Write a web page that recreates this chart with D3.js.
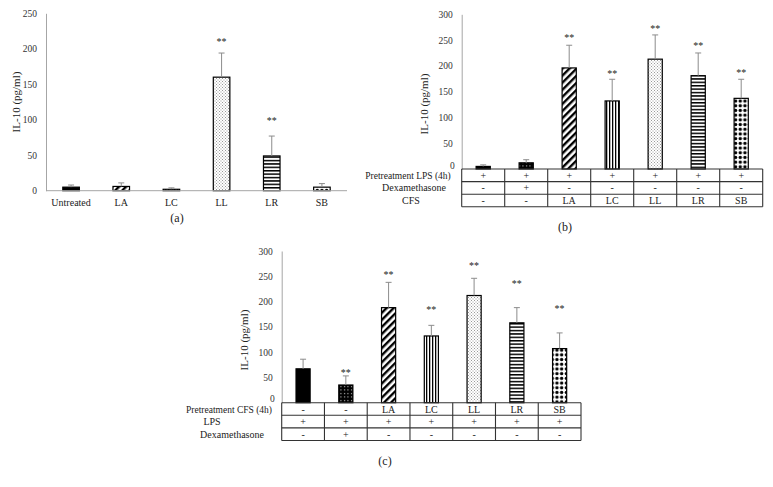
<!DOCTYPE html>
<html>
<head>
<meta charset="utf-8">
<script src="https://cdn.jsdelivr.net/npm/d3@7"></script>
<style>
  body { margin: 0; background: #fff; }
  svg { font-family: "Liberation Serif", "Times New Roman", serif; }
</style>
</head>
<body>
<svg id="chart" width="773" height="487"></svg>
<script>
// ---- data (a): CFS alone
var catsA = ["Untreated", "LA", "LC", "LL", "LR", "SB"];
var meanA = [5, 6, 2, 160, 49, 5];
var sdA   = [3, 5, 2, 34, 28, 5];
var sigA  = ["", "", "", "**", "**", ""];
var sigAtA = [null, null, null, 212, 101, null];
var fillA = ["solid", "diag", "vert", "fine", "horiz", "diamond"];

// ---- data (b): LPS pretreatment, then CFS
var meanB = [5, 12, 196, 132, 213, 181, 137];
var sdB   = [3, 6, 44, 42, 47, 44, 37];
var sigB  = ["", "", "**", "**", "**", "**", "**"];
var sigAtB = [null, null, 258, 189, 276, 242, 190];
var rowNamesB = ["Pretreatment LPS (4h)", "Dexamethasone", "CFS"];
var lpsB = ["+", "+", "+", "+", "+", "+", "+"];
var dexB = ["-", "+", "-", "-", "-", "-", "-"];
var cfsB = ["-", "-", "LA", "LC", "LL", "LR", "SB"];

// ---- data (c): CFS pretreatment, then LPS
var meanC = [67, 35, 188, 132, 212, 158, 107];
var sdC   = [19, 18, 50, 21, 34, 30, 31];
var sigC  = ["", "**", "**", "**", "**", "**", "**"];
var sigAtC = [null, 63, 256, 187, 274, 239, 189];
var rowNamesC = ["Pretreatment CFS (4h)", "LPS", "Dexamethasone"];
var cfsC = ["-", "-", "LA", "LC", "LL", "LR", "SB"];
var lpsC = ["+", "+", "+", "+", "+", "+", "+"];
var dexC = ["-", "+", "-", "-", "-", "-", "-"];

var fillBC = ["solid", "dots", "diag", "vert", "fine", "horiz", "diamond"];

var svg = d3.select("#chart");
var defs = svg.append("defs");

// ---- fill patterns
function pattern(id, w, h, bg, transform) {
  var p = defs.append("pattern")
    .attr("id", id)
    .attr("patternUnits", "userSpaceOnUse")
    .attr("width", w).attr("height", h);
  if (transform) p.attr("patternTransform", transform);
  p.append("rect").attr("width", w).attr("height", h).attr("fill", bg);
  return p;
}
pattern("diag", 5, 5, "#fff", "rotate(45)")
  .append("rect").attr("x", 0).attr("y", 0).attr("width", 2.4).attr("height", 5).attr("fill", "#000");
pattern("vert", 3, 3, "#fff")
  .append("rect").attr("x", 0).attr("y", 0).attr("width", 1.3).attr("height", 3).attr("fill", "#000");
pattern("horiz", 3.4, 3.4, "#fff")
  .append("rect").attr("x", 0).attr("y", 0).attr("width", 3.4).attr("height", 1.5).attr("fill", "#000");
var pf = pattern("fine", 3, 3, "#fff");
pf.append("rect").attr("x", 0).attr("y", 0).attr("width", 1).attr("height", 1).attr("fill", "#999");
pf.append("rect").attr("x", 1.5).attr("y", 1.5).attr("width", 1).attr("height", 1).attr("fill", "#999");
pattern("dots", 3.5, 3.5, "#000")
  .append("rect").attr("x", 1).attr("y", 1).attr("width", 1).attr("height", 1).attr("fill", "#fff");
pattern("diamond", 4.7, 4.7, "#fff")
  .append("circle").attr("cx", 2.35).attr("cy", 2.35).attr("r", 1.7).attr("fill", "#000");

function fillOf(k) { return k === "solid" ? "#000" : "url(#" + k + ")"; }

// ---- generic panel
function drawPanel(p) {
  var n = p.means.length;
  var y = d3.scaleLinear().domain([0, p.max]).range([p.bottom, p.top]);
  var x = d3.scaleBand().domain(d3.range(n)).range([p.left, p.right]);
  var bw = x.bandwidth() * 0.33;
  var g = svg.append("g");

  // y axis
  var ax = g.append("g")
    .attr("transform", "translate(" + p.left + ",0)")
    .call(d3.axisLeft(y).tickValues(d3.range(0, p.max + 1, 50)).tickSize(0).tickPadding(9));
  ax.select(".domain").attr("stroke", "#a6a6a6");
  ax.selectAll("text").attr("font-size", 9.5).attr("fill", "#333")
    .attr("font-family", "Liberation Serif, serif");
  // with a table below, the zero label sits a little higher
  if (p.zeroLift) {
    ax.selectAll(".tick").filter(function(d) { return d === 0; })
      .select("text").attr("dy", "-0.1em").attr("x", -7);
  }

  g.append("text")
    .attr("transform", "translate(" + p.yLabelX + "," + p.yLabelY + ") rotate(-90)")
    .attr("text-anchor", "middle")
    .attr("font-size", 11).attr("fill", "#222")
    .text("IL-10 (pg/ml)");

  // bars
  var bars = g.selectAll(".bar").data(d3.range(n)).enter();
  bars.append("rect")
    .attr("x", function(i) { return x(i) + (x.bandwidth() - bw) / 2; })
    .attr("y", function(i) { return y(p.means[i]); })
    .attr("width", bw)
    .attr("height", function(i) { return y(0) - y(p.means[i]); })
    .attr("fill", function(i) { return fillOf(p.fills[i]); })
    .attr("stroke", "#000").attr("stroke-width", 1.2);

  // error bars (upper only)
  bars.append("path")
    .attr("d", function(i) {
      var cx = x(i) + x.bandwidth() / 2, top = y(p.means[i] + p.sds[i]);
      return "M" + cx + "," + y(p.means[i]) + "V" + top + "M" + (cx - 3) + "," + top + "H" + (cx + 3);
    })
    .attr("stroke", "#8c8c8c").attr("stroke-width", 1).attr("fill", "none");

  // significance marks
  bars.filter(function(i) { return p.sig[i]; })
    .append("text")
    .attr("x", function(i) { return x(i) + x.bandwidth() / 2; })
    .attr("y", function(i) { return y(p.sigAt[i]) + 5; })
    .attr("text-anchor", "middle")
    .attr("font-size", 10).attr("fill", "#222")
    .text(function(i) { return p.sig[i]; });

  return { x: x, y: y, g: g };
}

// ---- panel (a)
var pa = drawPanel({
  left: 46, right: 347, top: 13.3, bottom: 190.7, max: 250,
  means: meanA, sds: sdA, fills: fillA, sig: sigA, sigAt: sigAtA,
  yLabelX: 20, yLabelY: 102
});
pa.g.append("line")
  .attr("x1", 46).attr("x2", 347).attr("y1", 190.7).attr("y2", 190.7)
  .attr("stroke", "#a6a6a6");
pa.g.selectAll(".cat").data(catsA).enter().append("text")
  .attr("x", function(d, i) { return pa.x(i) + pa.x.bandwidth() / 2; })
  .attr("y", 206)
  .attr("text-anchor", "middle").attr("font-size", 10).attr("fill", "#222")
  .text(function(d) { return d; });
svg.append("text").attr("x", 177).attr("y", 222).attr("text-anchor", "middle")
  .attr("font-size", 12).attr("fill", "#222").text("(a)");

// ---- condition table under (b) and (c)
function drawTable(pp, top, rowH, rows, names, labelX) {
  var x = pp.x;
  var left = x.range()[0], right = x.range()[1];
  var t = pp.g.append("g");
  rows.forEach(function(row, r) {
    var y0 = top + r * rowH;
    t.append("line").attr("x1", left).attr("x2", right).attr("y1", y0).attr("y2", y0);
    t.selectAll(".c" + r).data(row).enter().append("text")
      .attr("x", function(d, i) { return x(i) + x.bandwidth() / 2; })
      .attr("y", y0 + rowH / 2 + 3.5)
      .attr("text-anchor", "middle").attr("font-size", 10).attr("fill", "#222")
      .text(function(d) { return d; });
    t.append("text").attr("x", labelX[r]).attr("y", y0 + rowH / 2 + 3.5)
      .attr("text-anchor", "middle").attr("font-size", r === 0 ? 9.5 : 10).attr("fill", "#222")
      .text(names[r]);
  });
  var bottom = top + rows.length * rowH;
  t.append("line").attr("x1", left).attr("x2", right).attr("y1", bottom).attr("y2", bottom);
  d3.range(x.domain().length + 1).forEach(function(i) {
    var xx = i < x.domain().length ? x(i) : right;
    t.append("line").attr("x1", xx).attr("x2", xx).attr("y1", top).attr("y2", bottom);
  });
  t.selectAll("line").attr("stroke", "#333").attr("stroke-width", 1.1);
}

// ---- panel (b)
var pb = drawPanel({
  left: 461.7, right: 762.7, top: 14.3, bottom: 169, max: 300,
  means: meanB, sds: sdB, fills: fillBC, sig: sigB, sigAt: sigAtB,
  yLabelX: 428, yLabelY: 104, zeroLift: true
});
drawTable(pb, 169, 12.6, [lpsB, dexB, cfsB], rowNamesB, [408, 414, 411]);
svg.append("text").attr("x", 565).attr("y", 231).attr("text-anchor", "middle")
  .attr("font-size", 12).attr("fill", "#222").text("(b)");

// ---- panel (c)
var pc = drawPanel({
  left: 281.7, right: 581, top: 251, bottom: 402.7, max: 300,
  means: meanC, sds: sdC, fills: fillBC, sig: sigC, sigAt: sigAtC,
  yLabelX: 248, yLabelY: 340, zeroLift: true
});
drawTable(pc, 402.7, 12.6, [cfsC, lpsC, dexC], rowNamesC, [229, 212, 232]);
svg.append("text").attr("x", 385).attr("y", 465).attr("text-anchor", "middle")
  .attr("font-size", 12).attr("fill", "#222").text("(c)");
</script>
</body>
</html>
